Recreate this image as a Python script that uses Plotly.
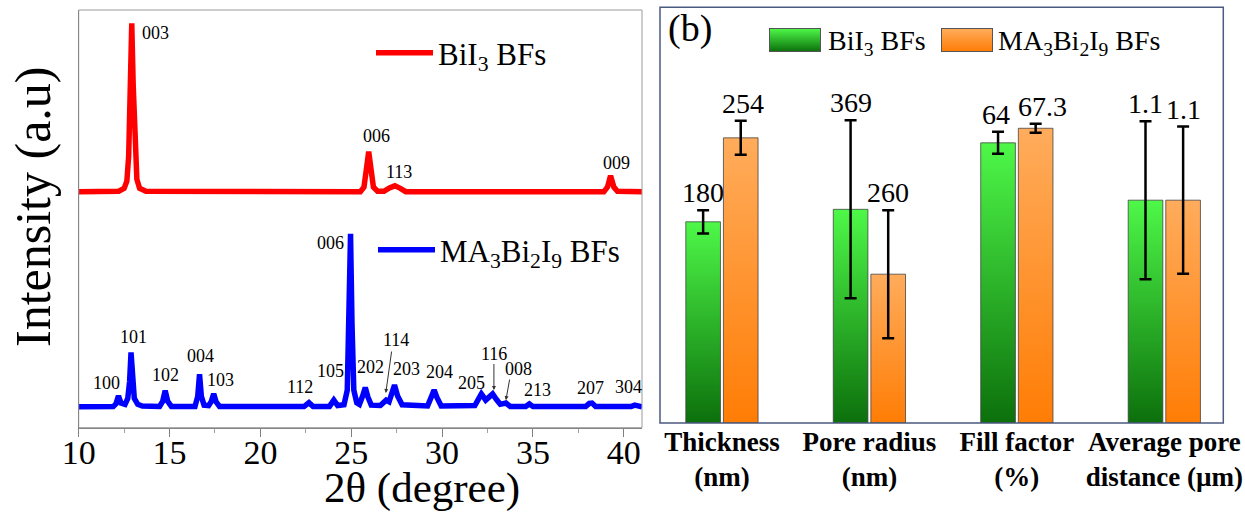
import base64
import plotly.graph_objects as go

FONT = "'Liberation Serif', 'Times New Roman', serif"

# ---------------- Panel (a): XRD patterns ----------------
# 2theta (degree) and intensity (a.u., offset scale)
bii3_2theta = [10.0, 12.2, 12.5, 12.65, 12.75, 12.85, 12.92, 13.0, 13.1, 13.2, 13.35, 13.7,
               25.5, 25.7, 25.82, 25.96, 26.1, 26.22, 26.45,
               26.8, 27.1, 27.4, 27.7, 28.0,
               38.9, 39.1, 39.27, 39.45, 39.65, 41.0]
bii3_int = [56.5, 56.6, 57.3, 59.0, 65.0, 82.0, 96.8, 82.0, 65.0, 59.5, 57.3, 56.6,
            56.5, 57.6, 61.5, 66.1, 61.5, 57.6, 56.6,
            56.6, 57.4, 57.9, 57.3, 56.5,
            56.5, 57.6, 60.3, 57.6, 56.6, 56.5]

mabi_2theta = [10.0, 11.9, 12.05, 12.19, 12.33, 12.55, 12.7, 12.8, 12.88, 12.96, 13.06, 13.25, 13.5,
               14.45, 14.62, 14.76, 14.9, 15.1,
               16.4, 16.55, 16.65, 16.75, 16.9,
               17.15, 17.3, 17.43, 17.56, 17.75,
               22.4, 22.67, 22.9,
               23.8, 24.04, 24.25,
               24.6, 24.78, 24.88, 24.96, 25.04, 25.14, 25.3,
               25.45, 25.62, 25.77, 25.92, 26.1,
               26.6, 26.92, 27.08, 27.22, 27.38, 27.55, 27.8,
               29.2, 29.4, 29.56, 29.72, 29.95,
               31.8, 32.0, 32.16, 32.4, 32.6, 32.78, 32.98, 33.2, 33.51, 33.75,
               34.6, 34.8, 35.0,
               37.9, 38.1, 38.25, 38.45,
               40.4, 40.6, 40.8, 41.0]
mabi_int = [5.0, 5.05, 5.7, 7.6, 5.9, 5.6, 7.0, 11.0, 18.0, 11.0, 7.0, 5.6, 5.2,
            5.1, 6.3, 8.9, 6.3, 5.1,
            5.1, 7.5, 12.8, 7.5, 5.4,
            5.3, 6.3, 8.1, 6.2, 5.1,
            5.05, 6.0, 5.05,
            5.1, 6.6, 5.3,
            5.5, 9.0, 25.0, 46.4, 25.0, 9.0, 6.0,
            5.6, 7.5, 9.6, 7.3, 5.4,
            5.3, 6.6, 6.2, 7.8, 10.2, 7.6, 5.5,
            5.2, 7.2, 9.0, 7.2, 5.2,
            5.3, 7.0, 8.1, 6.6, 7.3, 8.1, 6.8, 5.6, 5.9, 5.1,
            5.1, 5.7, 5.05,
            5.05, 5.8, 5.9, 5.1,
            5.05, 5.4, 5.05, 5.0]

# peak labels: text, 2theta, intensity of label centre
bii3_labels = ["003", "006", "113", "009"]
bii3_lab_x = [14.21, 26.40, 27.61, 39.6]
bii3_lab_y = [94.6, 69.8, 61.2, 63.4]

mabi_labels = ["100", "101", "102", "004", "103", "112", "105", "006", "202", "114",
               "203", "204", "205", "116", "008", "213", "207", "304"]
mabi_lab_x = [11.54, 13.0, 14.76, 16.69, 17.83, 22.18, 23.86, 23.86, 26.07, 27.45,
              28.05, 29.87, 31.64, 32.85, 34.23, 35.25, 38.18, 40.24]
mabi_lab_y = [10.8, 21.8, 12.6, 17.2, 11.4, 9.7, 13.65, 44.3, 14.6, 21.0,
              14.05, 13.4, 10.8, 17.6, 14.05, 9.0, 9.5, 9.8]

# arrows (label -> peak): start x, start y, end x, end y
arrow_from_x = [27.23, 32.85, 33.73]
arrow_from_y = [18.6, 15.6, 11.9]
arrow_to_x = [26.9, 32.85, 33.51]
arrow_to_y = [8.3, 9.0, 6.6]

x_ticks = [10, 15, 20, 25, 30, 35, 40]

# ---------------- Panel (b): bar chart ----------------
categories = ["<b>Thickness</b><br><b>(nm)</b>", "<b>Pore radius</b><br><b>(nm)</b>",
              "<b>Fill factor</b><br><b>(%)</b>", "<b>Average pore</b><br><b>distance (µm)</b>"]
bii3_values = ["180", "369", "64", "1.1"]
mabi_values = ["254", "260", "67.3", "1.1"]
# bar heights and error bars as drawn (normalised scale 0-100)
bii3_height = [48.4, 51.4, 67.4, 53.6]
bii3_err = [2.8, 21.4, 2.65, 19.0]
mabi_height = [68.6, 35.8, 70.9, 53.6]
mabi_err = [4.1, 15.4, 1.1, 17.7]

GREEN_SCALE = [[0, "rgb(12,112,12)"], [1, "rgb(78,248,72)"]]
ORANGE_SCALE = [[0, "rgb(255,125,5)"], [1, "rgb(255,172,92)"]]

W, H = 1245, 514
fig = go.Figure()

# --- XRD lines
fig.add_trace(go.Scatter(x=bii3_2theta, y=bii3_int, mode="lines", name="BiI<sub>3</sub> BFs",
                         line=dict(color="#ff0000", width=5.5), xaxis="x", yaxis="y",
                         legend="legend"))
fig.add_trace(go.Scatter(x=mabi_2theta, y=mabi_int, mode="lines",
                         name="MA<sub>3</sub>Bi<sub>2</sub>I<sub>9</sub> BFs",
                         line=dict(color="#0000ff", width=5.5), xaxis="x", yaxis="y",
                         legend="legend2"))

# --- bars (gradient filled), built from the bar data on the category axis
BAR_W = 0.235
GAP = 0.01
for series, heights, scale in [(0, bii3_height, GREEN_SCALE), (1, mabi_height, ORANGE_SCALE)]:
    for i, h in enumerate(heights):
        if series == 0:
            a, b = i - GAP - BAR_W, i - GAP
        else:
            a, b = i + GAP, i + GAP + BAR_W
        fig.add_trace(go.Scatter(
            x=[a, a, b, b, a], y=[0, h, h, 0, 0], mode="lines", fill="toself",
            fillgradient=dict(type="vertical", colorscale=scale),
            line=dict(color="rgba(60,60,60,0.75)", width=1),
            xaxis="x2", yaxis="y2", showlegend=False, hoverinfo="skip"))

centers_g = [i - GAP - BAR_W / 2 for i in range(len(categories))]
centers_o = [i + GAP + BAR_W / 2 for i in range(len(categories))]
for cx, hs, es in [(centers_g, bii3_height, bii3_err), (centers_o, mabi_height, mabi_err)]:
    fig.add_trace(go.Scatter(
        x=cx, y=hs, mode="markers", marker=dict(size=1, color="rgba(0,0,0,0)"),
        error_y=dict(type="data", array=es, visible=True, color="black", thickness=2.5, width=6),
        xaxis="x2", yaxis="y2", showlegend=False, hoverinfo="skip"))

annotations = []
# peak labels
for t, x, y in zip(bii3_labels, bii3_lab_x, bii3_lab_y):
    annotations.append(dict(x=x, y=y, xref="x", yref="y", text=t, showarrow=False,
                            xanchor="center", yanchor="middle",
                            font=dict(family=FONT, size=18, color="black")))
for t, x, y in zip(mabi_labels, mabi_lab_x, mabi_lab_y):
    annotations.append(dict(x=x, y=y, xref="x", yref="y", text=t, showarrow=False,
                            xanchor="center", yanchor="middle",
                            font=dict(family=FONT, size=18, color="black")))
for x0, y0, x1, y1 in zip(arrow_from_x, arrow_from_y, arrow_to_x, arrow_to_y):
    annotations.append(dict(x=x1, y=y1, ax=x0, ay=y0, xref="x", yref="y", axref="x", ayref="y",
                            text="", showarrow=True, arrowhead=2, arrowsize=0.8,
                            arrowwidth=1, arrowcolor="#333"))
# bar value labels (the 67.3 label sits a little to the right in the original)
for cx, hs, es, vals, shifts in [(centers_g, bii3_height, bii3_err, bii3_values, [0, 0, -2, 0]),
                                 (centers_o, mabi_height, mabi_err, mabi_values, [2, 0, 7, 0])]:
    for x, h, e, v, s in zip(cx, hs, es, vals, shifts):
        annotations.append(dict(x=x, y=h + e, xref="x2", yref="y2", text=v, showarrow=False,
                                xanchor="center", yanchor="bottom", yshift=0, xshift=s,
                                font=dict(family=FONT, size=28, color="black")))

# axis titles and panel label
annotations.append(dict(x=422 / W, y=0, xref="paper", yref="paper",
                        xanchor="center", yanchor="bottom",
                        text="2θ (degree)", showarrow=False,
                        font=dict(family=FONT, size=43, color="black")))
annotations.append(dict(x=33 / W, y=1 - 207 / H, xref="paper", yref="paper",
                        xanchor="center", yanchor="middle",
                        text="Intensity (a.u)", showarrow=False, textangle=-90,
                        font=dict(family=FONT, size=50, color="black")))
annotations.append(dict(x=666 / W, y=1 - 28 / H, xref="paper", yref="paper",
                        xanchor="left", yanchor="middle",
                        text="(b)", showarrow=False,
                        font=dict(family=FONT, size=38, color="black")))
# legend texts of panel (b)
annotations.append(dict(x=826 / W, y=1 - 42 / H, xref="paper", yref="paper",
                        xanchor="left", yanchor="middle",
                        text="BiI<sub>3</sub> BFs", showarrow=False,
                        font=dict(family=FONT, size=28, color="black")))
annotations.append(dict(x=996 / W, y=1 - 42 / H, xref="paper", yref="paper",
                        xanchor="left", yanchor="middle",
                        text="MA<sub>3</sub>Bi<sub>2</sub>I<sub>9</sub> BFs", showarrow=False,
                        font=dict(family=FONT, size=28, color="black")))


def grad_box(c0, c1):
    svg = ('<svg xmlns="http://www.w3.org/2000/svg" width="52" height="24" viewBox="0 0 52 24">'
           '<defs><linearGradient id="g" x1="0" y1="1" x2="0" y2="0">'
           f'<stop offset="0" stop-color="{c0}"/><stop offset="1" stop-color="{c1}"/>'
           '</linearGradient></defs>'
           '<rect x="0.5" y="0.5" width="51" height="23" fill="url(#g)" stroke="#555" stroke-width="1"/></svg>')
    return "data:image/svg+xml;base64," + base64.b64encode(svg.encode()).decode()


images = [
    dict(source=grad_box("rgb(12,112,12)", "rgb(78,248,72)"), xref="paper", yref="paper",
         x=769 / W, y=1 - 28 / H, sizex=52 / W, sizey=24 / H, xanchor="left", yanchor="top",
         sizing="stretch", layer="above"),
    dict(source=grad_box("rgb(255,125,5)", "rgb(255,172,92)"), xref="paper", yref="paper",
         x=941 / W, y=1 - 28 / H, sizex=52 / W, sizey=24 / H, xanchor="left", yanchor="top",
         sizing="stretch", layer="above"),
]

shapes = [
    dict(type="rect", xref="x domain", yref="y domain", x0=0, x1=1, y0=0, y1=1,
         line=dict(color="#9a9a9a", width=1), layer="above"),
    dict(type="rect", xref="x2 domain", yref="y2 domain", x0=0, x1=1, y0=0, y1=1,
         line=dict(color="#4b5a80", width=1.5), layer="above"),
]

fig.update_layout(
    template="none",
    width=W, height=H, autosize=False,
    margin=dict(l=0, r=0, t=0, b=0, pad=0, autoexpand=False),
    paper_bgcolor="white", plot_bgcolor="white",
    font=dict(family=FONT, color="black"),
    xaxis=dict(domain=[78.7 / W, 642 / W], range=[10, 41], tickvals=x_ticks,
               ticks="outside", ticklen=8, tickcolor="#808080", tickwidth=1,
               minor=dict(dtick=2.5, ticks="outside", ticklen=4, tickcolor="#a0a0a0"),
               tickfont=dict(family=FONT, size=34, color="black"), ticklabelstandoff=-14,
               showline=True, linecolor="#808080", linewidth=1, automargin=False,
               showgrid=False, zeroline=False, anchor="y"),
    yaxis=dict(domain=[1 - 427.7 / H, 1 - 10 / H], range=[0, 100], showticklabels=False,
               ticks="", showline=True, linecolor="#333333", linewidth=1, automargin=False,
               showgrid=False, zeroline=False, anchor="x"),
    xaxis2=dict(domain=[660 / W, 1223.3 / W], range=[-0.42, 3.40],
                tickvals=list(range(len(categories))), ticktext=categories, ticks="",
                tickfont=dict(family=FONT, size=27, color="black"), automargin=False,
                showline=False, showgrid=False, zeroline=False, anchor="y2"),
    yaxis2=dict(domain=[1 - 423 / H, 1 - 7.3 / H], range=[0, 100], showticklabels=False,
                ticks="", showline=False, showgrid=False, zeroline=False, anchor="x2",
                automargin=False),
    showlegend=True,
    legend=dict(x=371 / W, y=1 - 53 / H, xanchor="left", yanchor="middle",
                bgcolor="rgba(0,0,0,0)", font=dict(family=FONT, size=31, color="black"),
                itemwidth=57),
    legend2=dict(x=373 / W, y=1 - 250 / H, xanchor="left", yanchor="middle",
                 bgcolor="rgba(0,0,0,0)", font=dict(family=FONT, size=31, color="black"),
                 itemwidth=57),
    annotations=annotations,
    images=images,
    shapes=shapes,
)

fig.write_html("out.html", config={"displayModeBar": False},
               post_script="document.body.style.margin='0px';document.body.style.overflow='hidden';")
